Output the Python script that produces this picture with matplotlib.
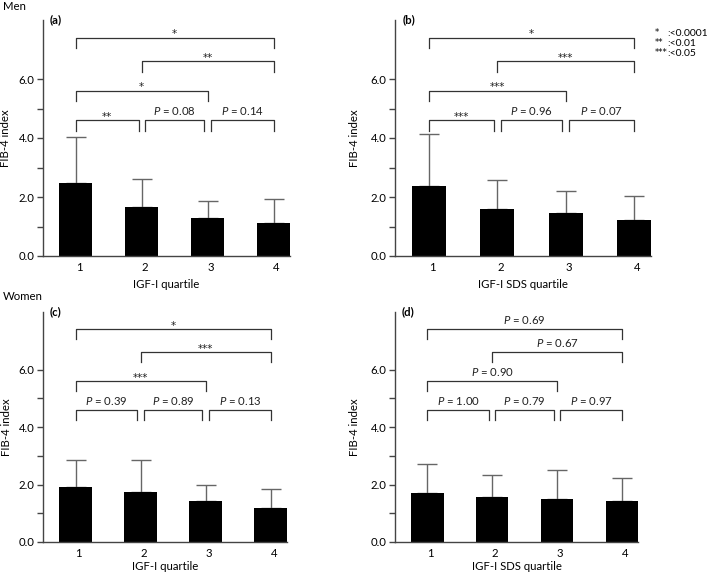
import numpy as np
import matplotlib.pyplot as plt
from matplotlib.ticker import FixedLocator
import matplotlib.transforms as mtransforms

plt.rcParams['font.family'] = ['Lato', 'DejaVu Sans']
plt.rcParams['mathtext.fontset'] = 'custom'
plt.rcParams['mathtext.it'] = 'Lato:italic'
plt.rcParams['mathtext.rm'] = 'Lato'

# ---------------- data ----------------
quartiles = [1, 2, 3, 4]
quartile_labels = ['1', '2', '3', '4']

men_igf_mean = [2.46, 1.67, 1.30, 1.13]
men_igf_sd = [1.58, 0.95, 0.57, 0.81]
men_sds_mean = [2.37, 1.59, 1.47, 1.21]
men_sds_sd = [1.76, 0.97, 0.75, 0.81]
women_igf_mean = [1.93, 1.73, 1.41, 1.18]
women_igf_sd = [0.92, 1.12, 0.58, 0.67]
women_sds_mean = [1.71, 1.58, 1.51, 1.43]
women_sds_sd = [1.01, 0.76, 1.01, 0.80]

# pairs compared, in order: 1-2, 2-3, 3-4, 1-3, 2-4, 1-4
pairs = [(1, 2), (2, 3), (3, 4), (1, 3), (2, 4), (1, 4)]
men_igf_sig = ['**', 'P = 0.08', 'P = 0.14', '*', '**', '*']
men_sds_sig = ['***', 'P = 0.96', 'P = 0.07', '***', '***', '*']
women_igf_sig = ['P = 0.39', 'P = 0.89', 'P = 0.13', '***', '***', '*']
women_sds_sig = ['P = 1.00', 'P = 0.79', 'P = 0.97', 'P = 0.90', 'P = 0.67', 'P = 0.69']

legend_stars = ['*', '**', '***']
legend_text = [':<0.0001', ':<0.01', ':<0.05']

# ---------------- layout ----------------
W, H = 709, 574
fig = plt.figure(figsize=(W / 100, H / 100), dpi=100)
fs = 8.2


def px_axes(left, right, top, bottom):
    return fig.add_axes([left / W, 1 - bottom / H, (right - left) / W, (bottom - top) / H])


bracket_levels = [4.6, 5.6, 6.6, 7.4]
bracket_drop = 0.35
dark = '#333333'


def panel(ax, means, sds, sig, tag, xlabel, xlab_px, ylab_px):
    w_px = ax.get_position().width * W
    h_px = ax.get_position().height * H
    ax.bar(quartiles, means, width=0.5, color='black', zorder=2)
    ax.errorbar(quartiles, means, yerr=[np.zeros(4), sds], fmt='none',
                ecolor='#666666', elinewidth=1.0, capsize=7, capthick=1.0, zorder=1)
    ax.set_xlim(0.5, 4.25)
    ax.set_ylim(0, 8)
    for s in ['top', 'right']:
        ax.spines[s].set_visible(False)
    for s in ['left', 'bottom']:
        ax.spines[s].set_color('#444444')
        ax.spines[s].set_linewidth(1.0)
    ax.yaxis.set_major_locator(FixedLocator([0, 2, 4, 6]))
    ax.yaxis.set_minor_locator(FixedLocator([1, 3, 5]))
    ax.set_yticklabels(['0.0', '2.0', '4.0', '6.0'])
    ax.tick_params(axis='y', which='both', direction='out', length=4,
                   width=1.0, color='#444444', labelsize=fs, pad=2)
    ax.set_xticks(quartiles)
    ax.set_xticklabels(quartile_labels)
    ax.tick_params(axis='x', length=0, labelsize=fs, pad=4)
    off = mtransforms.ScaledTranslation(3 / 100, 0, fig.dpi_scale_trans)
    for lbl in ax.get_xticklabels():
        lbl.set_transform(lbl.get_transform() + off)
    ax.set_ylabel('FIB-4 index', fontsize=fs)
    ax.yaxis.set_label_coords(-ylab_px / w_px, 0.5)
    ax.yaxis.label.set_va('center')
    ax.set_xlabel(xlabel, fontsize=fs)
    ax.xaxis.set_label_coords(0.5, -xlab_px / h_px)
    ax.xaxis.label.set_va('center')
    ax.text(0.028, 1.0, tag, transform=ax.transAxes, fontsize=fs,
            fontweight='bold', va='center', ha='left')

    for k, ((i, j), lab) in enumerate(zip(pairs, sig)):
        level = 0 if k < 3 else k - 2
        top = bracket_levels[level]
        x0, x1 = i, j
        if k < 3:
            if i > 1:
                x0 = i + 0.05
            if j < 4:
                x1 = j - 0.05
        ax.plot([x0, x0, x1, x1], [top - bracket_drop, top, top, top - bracket_drop],
                color=dark, lw=0.9, clip_on=False)
        if lab.startswith('P'):
            ax.annotate(r'$P$' + lab[1:], xy=((x0 + x1) / 2, top), xytext=(0, 6.5),
                        textcoords='offset points', ha='center', va='center',
                        fontsize=fs, color='#222222', annotation_clip=False)
        else:
            ax.annotate(lab, xy=((x0 + x1) / 2, top), xytext=(0, 2.5),
                        textcoords='offset points', ha='center', va='center',
                        fontsize=7.5, family='DejaVu Sans', color='#222222',
                        annotation_clip=False)


ax_a = px_axes(43, 290, 20, 256)
ax_b = px_axes(395, 651, 20, 256)
ax_c = px_axes(43, 287, 312, 542)
ax_d = px_axes(395, 638, 312, 542)

panel(ax_a, men_igf_mean, men_igf_sd, men_igf_sig, '(a)', 'IGF-I quartile', 29, 37)
panel(ax_b, men_sds_mean, men_sds_sd, men_sds_sig, '(b)', 'IGF-I SDS quartile', 29, 41)
panel(ax_c, women_igf_mean, women_igf_sd, women_igf_sig, '(c)', 'IGF-I quartile', 24, 37)
panel(ax_d, women_sds_mean, women_sds_sd, women_sds_sig, '(d)', 'IGF-I SDS quartile', 24, 41)

fig.text(3 / W, 1 - 6 / H, 'Men', fontsize=fs, ha='left', va='center')
fig.text(3 / W, 1 - 296 / H, 'Women', fontsize=fs, ha='left', va='center')

for n, (st, tx) in enumerate(zip(legend_stars, legend_text)):
    y = 1 - (33 + 10 * n) / H
    fig.text(655 / W, y, st, fontsize=6.2, family='DejaVu Sans', ha='left', va='center')
    fig.text(667 / W, y, tx, fontsize=7.5, ha='left', va='center')

fig.savefig('out.png', dpi=100)
plt.close(fig)
